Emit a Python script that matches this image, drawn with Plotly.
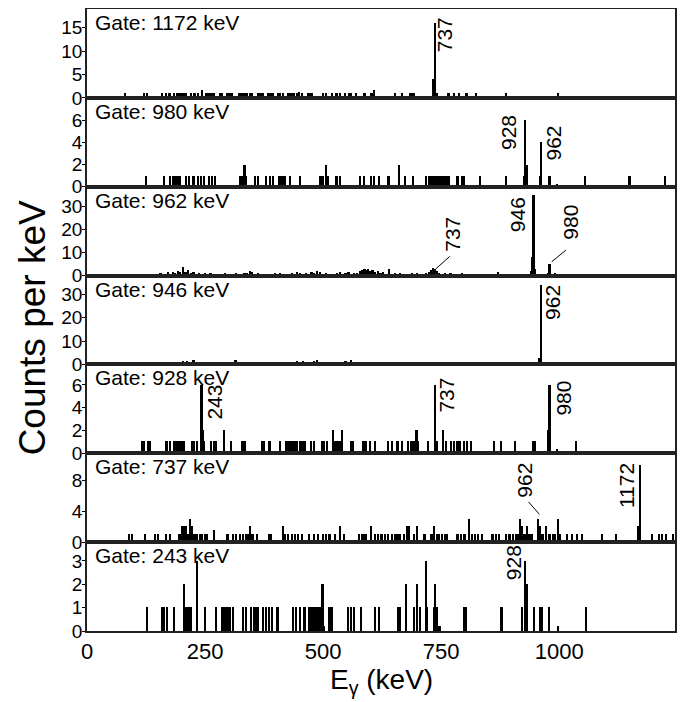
import plotly.graph_objects as go
from plotly.subplots import make_subplots

# ---------------- data (energies in keV, counts per keV) ----------------
gate_labels = ["Gate: 1172 keV", "Gate: 980 keV", "Gate: 962 keV", "Gate: 946 keV",
               "Gate: 928 keV", "Gate: 737 keV", "Gate: 243 keV"]

g1172_e = [81, 122, 127, 160, 168, 175, 184, 192, 197, 201, 205, 209, 220, 228, 236, 244, 252, 256,
           262, 266, 270, 282, 287, 298, 303, 307, 322, 326, 330, 335, 340, 345, 350, 362, 367, 372,
           384, 389, 394, 405, 410, 415, 426, 430, 434, 438, 446, 450, 455, 468, 473, 477, 500, 507,
           519, 529, 536, 547, 555, 559, 570, 588, 603, 608, 653, 667, 684, 688, 692, 733, 737, 741,
           766, 777, 789, 804, 825, 888, 998]
g1172_c = [1, 1, 1, 1, 1, 1, 1, 1, 1, 1, 1, 1, 1, 1, 1, 1.6, 1, 1,
           1, 1, 1, 1, 1, 1, 1, 1, 1, 1, 1, 1, 1, 1, 1, 1, 1, 1,
           1, 1, 1, 1, 1, 1, 1, 1, 1, 1, 1, 1.3, 1, 1, 1, 1, 1, 1,
           1, 1, 1, 1, 1, 1, 1, 1, 1, 1.7, 1, 1, 1, 1, 1, 4, 16, 1,
           1, 1, 1, 1, 1, 1, 1]

g980_e = [125, 164, 177, 183, 188, 193, 197, 210, 216, 226, 235, 242, 249, 258, 266, 271, 324, 329,
          334, 338, 357, 362, 379, 388, 394, 407, 411, 416, 420, 430, 451, 495, 501, 506, 510, 529,
          536, 578, 587, 602, 608, 618, 639, 661, 674, 691, 719, 724, 728, 733, 738, 742, 747, 752,
          757, 761, 766, 785, 794, 799, 832, 888, 925, 928, 931, 959, 962, 980, 996, 1055, 1149, 1224]
g980_c = [1, 1, 1, 1, 1, 1, 1, 1, 1, 1, 1, 1, 1, 1, 1, 1, 1, 1,
          2, 1, 1, 1, 1, 1, 1, 1, 1, 1, 1, 1, 1, 1, 1, 2, 1, 1,
          1, 1, 1, 1, 1, 1, 1, 2, 1, 1, 1, 1, 1, 1, 1, 1, 1, 1,
          1, 1, 1, 1, 1, 1, 1, 1, 1, 6, 2, 1, 4, 1, 0.3, 1, 1, 1]

g962_e = [83, 99, 106, 113, 120, 127, 133, 139, 145, 150, 156, 161, 166, 172, 177, 182, 187, 193,
          198, 204, 209, 214, 220, 226, 232, 238, 244, 250, 256, 262, 268, 274, 280, 286, 292, 298,
          304, 310, 316, 322, 328, 334, 340, 345, 350, 356, 362, 368, 374, 380, 386, 392, 398, 404,
          410, 416, 422, 428, 434, 440, 446, 452, 458, 464, 470, 476, 482, 488, 494, 500, 506, 512,
          518, 524, 530, 536, 542, 548, 554, 560, 566, 572, 578, 584, 588, 592, 596, 600, 605, 610,
          616, 622, 628, 634, 640, 646, 652, 658, 664, 670, 676, 682, 688, 694, 700, 706, 712, 718,
          724, 729, 733, 737, 741, 746, 752, 758, 764, 770, 776, 782, 788, 794, 800, 806, 812, 818,
          824, 830, 870, 876, 882, 893, 899, 905, 911, 916, 936, 940, 943, 946, 949, 968, 976, 980,
          984, 992, 998, 1010, 1018, 1037, 1210]
g962_c = [0.5, 0.4, 0.6, 0.5, 0.7, 0.5, 0.8, 0.6, 1.0, 0.7, 1.2, 0.8, 1.0, 1.5, 0.9, 1.8, 1.2, 2.2,
          1.5, 4.0, 1.8, 2.5, 1.2, 1.6, 1.0, 1.4, 0.9, 1.2, 0.8, 1.1, 0.7, 1.0, 0.6, 0.9, 1.3, 0.7,
          1.0, 0.8, 1.2, 0.9, 0.6, 1.1, 1.4, 2.0, 1.6, 1.0, 1.3, 0.7, 0.9, 0.6, 1.0, 0.8, 1.2, 0.7,
          1.1, 0.8, 0.6, 1.0, 1.3, 0.9, 1.6, 1.1, 0.8, 1.4, 1.0, 1.8, 1.2, 2.0, 1.5, 0.9, 1.2, 0.7,
          1.0, 0.8, 1.1, 1.5, 0.9, 1.3, 1.7, 1.0, 1.4, 1.1, 1.9, 2.5, 3.0, 2.4, 2.8, 2.0, 2.6, 1.5,
          2.2, 1.2, 1.6, 0.9, 2.8, 1.0, 1.3, 0.8, 1.1, 0.7, 1.0, 0.8, 1.2, 0.9, 1.4, 1.0, 0.8, 1.2,
          1.5, 2.5, 3.5, 3.0, 2.0, 1.2, 0.9, 1.4, 0.8, 1.1, 0.7, 1.0, 0.8, 1.2, 0.6, 0.9, 0.7, 0.8,
          0.5, 0.6, 1.5, 1.0, 0.8, 0.7, 1.0, 0.6, 0.8, 0.5, 0.6, 2.0, 8.0, 35.0, 3.0, 1.0, 1.2, 5.0,
          0.8, 1.2, 0.6, 0.9, 0.7, 0.6, 0.8]

g946_e = [101, 117, 158, 163, 168, 172, 178, 184, 189, 193, 198, 203, 208, 212, 217, 222, 226, 231,
          236, 241, 246, 251, 256, 262, 268, 274, 280, 286, 292, 298, 304, 310, 315, 320, 326, 332,
          338, 344, 350, 356, 362, 368, 374, 380, 386, 392, 398, 404, 410, 416, 422, 428, 434, 440,
          446, 452, 458, 464, 470, 476, 482, 488, 494, 500, 506, 512, 518, 524, 530, 536, 542, 548,
          554, 560, 566, 572, 578, 584, 590, 596, 602, 608, 614, 620, 626, 632, 638, 644, 650, 656,
          662, 668, 674, 680, 686, 692, 698, 704, 710, 716, 722, 728, 734, 740, 746, 752, 758, 764,
          770, 778, 786, 794, 802, 812, 820, 828, 836, 848, 858, 870, 888, 907, 922, 945, 952, 957,
          962, 999, 1008, 1076, 1149]
g946_c = [0.4, 0.6, 0.5, 0.8, 0.6, 0.9, 0.7, 1.0, 0.8, 1.3, 1.0, 1.5, 1.1, 1.8, 1.2, 1.0, 1.9, 1.3,
          1.0, 1.4, 0.8, 1.1, 0.9, 1.3, 1.0, 0.7, 1.2, 0.8, 1.0, 1.4, 0.9, 1.1, 2.0, 1.2, 0.8, 1.0,
          0.7, 1.1, 0.9, 0.6, 1.0, 0.8, 1.1, 0.7, 1.0, 0.8, 1.2, 0.6, 0.9, 0.7, 1.0, 0.8, 1.3, 1.0,
          1.5, 1.1, 1.6, 1.0, 1.3, 0.9, 1.5, 2.1, 1.4, 0.9, 1.2, 0.8, 1.0, 0.7, 1.1, 0.9, 1.3, 1.6,
          1.2, 2.0, 1.3, 1.0, 0.8, 1.1, 0.7, 1.0, 0.6, 1.1, 0.9, 1.2, 0.8, 1.0, 0.7, 0.9, 0.6, 0.8,
          1.0, 1.2, 0.9, 1.4, 1.1, 0.8, 1.2, 0.9, 1.3, 1.0, 1.2, 0.8, 1.0, 0.7, 0.9, 0.6, 0.8, 0.5,
          0.7, 0.5, 0.6, 0.4, 0.7, 0.5, 0.4, 0.6, 0.5, 0.4, 0.6, 0.4, 0.5, 0.5, 0.5, 0.5, 1.0, 3.0,
          34.0, 0.7, 0.5, 0.5, 0.5]

g928_e = [117, 122, 129, 134, 169, 176, 185, 190, 195, 200, 205, 223, 227, 233, 243, 246, 249, 263,
          270, 274, 291, 305, 329, 334, 371, 376, 387, 409, 423, 428, 432, 437, 442, 446, 451, 456,
          461, 475, 481, 498, 503, 508, 522, 526, 531, 536, 540, 559, 564, 586, 592, 599, 611, 637,
          646, 658, 667, 681, 686, 691, 695, 698, 702, 722, 737, 741, 755, 761, 771, 777, 785, 791,
          799, 805, 813, 863, 877, 907, 945, 949, 976, 980, 996, 1036]
g928_c = [1, 1, 1, 1, 1, 1, 1, 1, 1, 1, 1, 1, 1, 1, 6, 2, 1, 1,
          1, 1, 2, 1, 1, 1, 1, 1, 1, 1, 1, 1, 1, 1, 1, 1, 1, 1,
          1, 1, 1, 1, 1, 1, 2, 1, 1, 1, 2, 1, 1, 1, 1, 1, 1, 1,
          1, 1, 1, 1, 1, 1, 1, 2, 1, 1, 6, 1, 2, 1, 1, 1, 1, 1,
          1, 1, 1, 1, 1, 1, 1, 1, 2, 6, 0.3, 1]

g737_e = [89, 95, 124, 144, 151, 168, 177, 195, 199, 202, 206, 210, 213, 216, 219, 223, 226, 228,
          231, 234, 239, 244, 250, 254, 269, 298, 309, 316, 324, 331, 337, 342, 346, 351, 360, 386,
          390, 415, 420, 426, 434, 441, 448, 456, 470, 481, 489, 500, 507, 514, 525, 536, 544, 577,
          582, 588, 591, 602, 610, 617, 624, 631, 638, 646, 653, 658, 664, 671, 679, 682, 693, 699,
          715, 730, 736, 741, 746, 752, 758, 763, 785, 792, 800, 809, 815, 822, 829, 837, 859, 866,
          873, 888, 895, 903, 910, 914, 917, 921, 927, 932, 936, 939, 943, 955, 960, 965, 972, 980,
          987, 991, 998, 1002, 1016, 1027, 1038, 1049, 1091, 1121, 1168, 1172, 1196, 1211, 1218,
          1226, 1242]
g737_c = [1, 1, 1, 1, 1, 1, 1, 1, 1, 2, 2, 2, 1, 1, 3, 2, 1, 1,
          1, 1, 1, 1, 1, 1, 1.5, 1, 1, 1, 1, 1, 1, 1, 2, 1, 1, 1,
          1, 2, 1, 1, 1, 1, 1, 1, 1, 1, 1, 1, 1, 1, 1, 2, 1, 1,
          1, 1, 1, 2, 1, 1, 1, 1, 1, 1, 1, 1, 1, 1, 2, 2, 1, 2,
          1, 1, 2, 1, 1, 1, 1, 1, 1, 1, 1, 3, 1, 1, 1, 1, 1, 1,
          1, 1, 1, 1, 1, 1, 3, 2, 1, 2, 1, 1, 1, 3, 2, 1, 2, 1,
          1, 1, 3, 1, 1, 1, 1, 1, 1, 1, 2, 10, 1, 1, 1,
          1, 1]

g243_e = [128, 159, 164, 170, 185, 206, 211, 214, 217, 221, 234, 250, 273, 286, 290, 294, 298, 303,
          310, 330, 338, 348, 355, 360, 363, 374, 380, 386, 392, 404, 437, 443, 452, 461, 470, 476,
          482, 485, 488, 491, 494, 497, 499, 503, 514, 520, 553, 560, 566, 581, 611, 618, 660, 664,
          676, 693, 699, 705, 718, 721, 735, 738, 742, 747, 799, 803, 878, 922, 928, 931, 947, 959,
          963, 979, 998, 1057]
g243_c = [1, 1, 1, 1, 1, 2, 1, 1, 1, 1, 3, 1, 1, 1, 1, 1, 1, 1,
          1, 1, 1, 1, 1, 1, 1, 1, 1, 1, 1, 1, 1, 1, 1, 1, 1, 1,
          1, 1, 1, 1, 1, 1, 2, 0.2, 1, 1, 1, 1, 1, 1, 1, 1, 1, 1,
          2, 1, 2, 1, 3, 1, 1, 2, 1, 0.2, 1, 1, 1, 1, 3, 2, 1, 1,
          1, 1, 0.2, 1]

spectra = [(g1172_e, g1172_c), (g980_e, g980_c), (g962_e, g962_c), (g946_e, g946_c),
           (g928_e, g928_c), (g737_e, g737_c), (g243_e, g243_c)]

y_ranges = [[0, 19], [0, 8], [0, 38.5], [0, 38], [0, 7.8], [0, 11.5], [0, 3.8]]
y_ticks = [[0, 5, 10, 15], [0, 2, 4, 6], [0, 10, 20, 30], [0, 10, 20, 30],
           [0, 2, 4, 6], [0, 4, 8], [0, 1, 2, 3]]
x_ticks = [0, 250, 500, 750, 1000]

# peak labels: (panel row, text, x, y)
peak_labels = [(1, "737", 757, 13.5),
               (2, "928", 893, 4.9), (2, "962", 987, 3.9),
               (3, "737", 775, 17.7), (3, "946", 912, 26.5), (3, "980", 1023, 23),
               (4, "962", 985, 26.4),
               (5, "243", 268, 4.5), (5, "737", 761, 5.1), (5, "980", 1010, 4.8),
               (6, "962", 926, 8.0), (6, "1172", 1142, 7.3),
               (7, "928", 902, 2.9)]
# leader lines: (row, x0, y0, x1, y1)
leaders = [(3, 738, 2.8, 768, 8.3), (3, 984, 6.0, 1014, 11.0), (6, 935, 5.2, 958, 3.6)]

FONT = "Liberation Sans, Arial, Helvetica, sans-serif"

fig = make_subplots(rows=7, cols=1, shared_xaxes=True, vertical_spacing=0)

for i, (e, c) in enumerate(spectra):
    fig.add_trace(go.Bar(x=e, y=c, width=3.6, marker=dict(color="black", line=dict(width=0)),
                         showlegend=False, hoverinfo="x+y"), row=i + 1, col=1)
    fig.update_yaxes(range=y_ranges[i], tickvals=y_ticks[i], row=i + 1, col=1)
    fig.add_annotation(text=gate_labels[i], xref=f"x{'' if i == 0 else i + 1} domain",
                       yref=f"y{'' if i == 0 else i + 1} domain", x=0.01, y=1.0,
                       xanchor="left", yanchor="top", showarrow=False,
                       font=dict(size=21, color="black", family=FONT))

for row, txt, x, y in peak_labels:
    fig.add_annotation(text=txt, x=x, y=y, xref=f"x{'' if row == 1 else row}",
                       yref=f"y{'' if row == 1 else row}", showarrow=False, textangle=-90,
                       xanchor="center", yanchor="middle",
                       font=dict(size=21, color="black", family=FONT))

for row, x0, y0, x1, y1 in leaders:
    fig.add_shape(type="line", x0=x0, y0=y0, x1=x1, y1=y1,
                  xref=f"x{'' if row == 1 else row}", yref=f"y{'' if row == 1 else row}",
                  line=dict(color="black", width=1))

fig.update_xaxes(range=[0, 1245], tickvals=x_ticks, showline=True, mirror=True,
                 linecolor="#222222", linewidth=1.8, showgrid=False, zeroline=False, ticks="",
                 automargin=False, tickfont=dict(size=22, color="black", family=FONT))
fig.update_yaxes(showline=True, mirror=True, linecolor="#222222", linewidth=1.8,
                 showgrid=False, zeroline=False, ticks="outside", ticklen=3, tickwidth=1,
                 tickcolor="black", automargin=False, ticklabelstandoff=-4,
                 tickfont=dict(size=19, color="black", family=FONT))

fig.add_annotation(text="Counts per keV", xref="paper", yref="paper", x=-0.092, y=0.488,
                   textangle=-90, showarrow=False, xanchor="center", yanchor="middle",
                   font=dict(size=37, color="black", family=FONT))
fig.add_annotation(text="E<sub>γ</sub> (keV)", xref="paper", yref="paper", x=0.5, y=-0.05,
                   showarrow=False, xanchor="center", yanchor="top",
                   font=dict(size=28, color="black", family=FONT))

# the page body adds an 8 px offset, so the figure is sized to fit the 687x702 window
fig.update_layout(width=679, height=694, margin=dict(l=79, r=12, t=1, b=71),
                  plot_bgcolor="white", paper_bgcolor="white", bargap=0, barmode="overlay",
                  font=dict(family=FONT, color="black"))

fig.write_html("out.html")
